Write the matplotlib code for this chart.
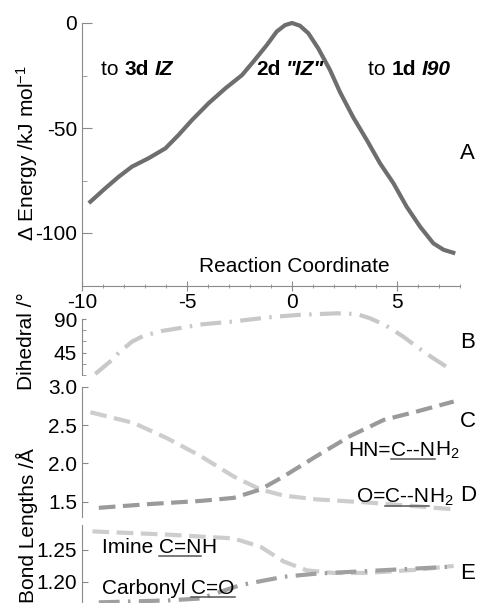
import matplotlib
matplotlib.use("Agg")
import matplotlib.pyplot as plt
from matplotlib.ticker import MultipleLocator, FixedLocator, FormatStrFormatter
from matplotlib.lines import Line2D
from matplotlib.transforms import IdentityTransform

plt.rcParams['font.family'] = ['Liberation Sans', 'DejaVu Sans']
plt.rcParams['mathtext.fontset'] = 'custom'
plt.rcParams['mathtext.rm'] = 'Liberation Sans'
plt.rcParams['mathtext.it'] = 'Liberation Sans:italic'
plt.rcParams['axes.unicode_minus'] = False

# --- data ---
energy_x = [-9.6, -8.89, -8.25, -7.62, -6.83, -6.03, -5.4, -4.76, -3.97, -3.17, -2.38, -1.84,
            -1.2, -0.73, -0.33, 0.0, 0.38, 0.78, 1.25, 1.81, 2.29, 2.92, 3.56, 4.19, 4.83,
            5.46, 6.1, 6.73, 7.22, 7.68]
energy_y = [-85.1, -78.7, -73.2, -68.4, -64.4, -59.7, -53.3, -46.2, -38.2, -31.1, -24.8, -18.4,
            -10.5, -4.1, -1.0, 0.0, -1.3, -4.9, -12.1, -22.4, -33.0, -45.0, -55.7, -66.8, -76.3,
            -87.5, -97.0, -104.9, -108.0, -109.4]

dihedral_x = [-9.37, -8.57, -8.25, -7.62, -7.06, -6.19, -5.24, -4.29, -2.86, -1.11, 0.22,
              2.13, 3.08, 3.71, 4.43, 5.3, 5.94, 6.73, 7.6]
dihedral_y = [16.0, 34.9, 44.8, 59.7, 67.8, 74.2, 78.6, 83.2, 86.8, 92.7, 95.8,
              98.1, 97.2, 91.4, 82.3, 66.5, 52.9, 37.2, 21.4]

ocn_x = [-9.6, -7.54, -5.95, -4.37, -2.78, -1.5, -0.4, 1.19, 3.57, 5.95, 7.7]
ocn_y = [2.67, 2.53, 2.33, 2.10, 1.83, 1.66, 1.58, 1.53, 1.49, 1.44, 1.40]

hncn_x = [-9.2, -6.75, -4.37, -2.78, -1.5, -0.4, 1.19, 2.78, 4.37, 5.95, 7.7]
hncn_y = [1.42, 1.47, 1.51, 1.55, 1.66, 1.83, 2.10, 2.36, 2.57, 2.68, 2.81]

imine_x = [-9.5, -5.95, -2.78, -1.5, -0.4, 0.71, 1.98, 3.57, 5.95, 7.7]
imine_y = [1.279, 1.274, 1.268, 1.255, 1.232, 1.218, 1.214, 1.214, 1.219, 1.225]

carbonyl_x = [-9.2, -5.95, -4.37, -2.46, -0.4, 1.19, 3.57, 5.95, 7.7]
carbonyl_y = [1.168, 1.171, 1.174, 1.195, 1.208, 1.213, 1.217, 1.221, 1.224]

W, H = 481, 603
FS = 15
AXC = '#8a8a8a'

fig = plt.figure(figsize=(W / 100, H / 100), dpi=100)


def add_ax(top, bottom):
    return fig.add_axes([82 / W, (H - bottom) / H, 378 / W, (bottom - top) / H])


axA = add_ax(23, 285.5)
axB = add_ax(319.3, 374.7)
axC = add_ax(387, 517)
axE = add_ax(525, 603)

for ax in (axA, axB, axC, axE):
    ax.set_xlim(-10, 8)
    ax.patch.set_visible(False)
    for s in ('top', 'right'):
        ax.spines[s].set_visible(False)
    ax.spines['left'].set_color(AXC)
    ax.spines['bottom'].set_color(AXC)
    ax.tick_params(axis='y', which='both', direction='in', colors=AXC, labelcolor='black',
                   labelsize=FS, pad=3.5, length=4)
for ax in (axB, axC, axE):
    ax.spines['bottom'].set_visible(False)
    ax.tick_params(axis='x', bottom=False, labelbottom=False)

# panel A
axA.plot(energy_x, energy_y, color='#6e6e6e', lw=3, clip_on=False)
axA.set_ylim(-125, 0)
axA.yaxis.set_major_locator(FixedLocator([-100, -50, 0]))
axA.yaxis.set_minor_locator(FixedLocator([-75, -25]))
axA.tick_params(axis='y', which='major', length=7)
axA.tick_params(axis='y', which='minor', length=3.5)
axA.xaxis.set_major_locator(MultipleLocator(5))
axA.xaxis.set_minor_locator(MultipleLocator(1))
axA.tick_params(axis='x', which='major', direction='inout', length=7, colors=AXC,
                labelcolor='black', labelsize=FS, pad=2)
axA.tick_params(axis='x', which='minor', direction='inout', length=3.5, colors=AXC)
axA.text(0.1, -116, 'Reaction Coordinate', fontsize=FS, ha='center', va='center')

# panel B
axB.plot(dihedral_x, dihedral_y, color='#c8c8c8', lw=3, dashes=(5, 2, 0.6, 2), clip_on=False)
axB.set_ylim(15, 90)
axB.yaxis.set_major_locator(FixedLocator([45, 90]))
axB.yaxis.set_minor_locator(FixedLocator([15, 30, 60, 75]))
axB.tick_params(axis='y', which='both', length=3)

# panel C / D
axC.plot(ocn_x, ocn_y, color='#cdcdcd', lw=3, dashes=(4, 1.8), clip_on=False)
axC.plot(hncn_x, hncn_y, color='#9a9a9a', lw=3, dashes=(4, 1.8), clip_on=False)
axC.set_ylim(1.30, 3.0)
axC.yaxis.set_major_locator(FixedLocator([1.5, 2.0, 2.5, 3.0]))
axC.yaxis.set_major_formatter(FormatStrFormatter('%.1f'))

# panel E
axE.plot(imine_x, imine_y, color='#cdcdcd', lw=3, dashes=(4, 1.8), clip_on=False)
axE.plot(carbonyl_x, carbonyl_y, color='#a0a0a0', lw=3, dashes=(5, 2, 0.6, 2), clip_on=False)
axE.set_ylim(1.167, 1.289)
axE.yaxis.set_major_locator(FixedLocator([1.20, 1.25]))
axE.yaxis.set_major_formatter(FormatStrFormatter('%.2f'))

renderer = fig.canvas.get_renderer()


def text_width(s, **kw):
    a = fig.text(0, 0, 'x' + s + 'x', fontsize=FS, **kw)
    b = fig.text(0, 0, 'xx', fontsize=FS, **kw)
    w = a.get_window_extent(renderer).width - b.get_window_extent(renderer).width
    a.remove()
    b.remove()
    return w


def pieces(ax, x, y, parts):
    # parts: (string, weight, style, underline)
    x0, y0 = ax.transData.transform((x, y))
    dx = 0
    for s, weight, style, under in parts:
        kw = dict(fontweight=weight, fontstyle=style)
        ax.annotate(s, (x, y), xytext=(dx, 0), textcoords='offset pixels',
                    fontsize=FS, ha='left', va='baseline', annotation_clip=False, **kw)
        w = text_width(s, **kw)
        if under:
            fig.add_artist(Line2D([x0 + dx, x0 + dx + w], [y0 - 3.5, y0 - 3.5],
                                  color='#555555', lw=1.1, transform=IdentityTransform()))
        dx += w


pieces(axA, -9.1, -24.8, [('to ', 'normal', 'normal', False), ('3d', 'bold', 'normal', False),
                          (' ', 'normal', 'normal', False), ('IZ', 'bold', 'italic', False)])
pieces(axA, -1.71, -24.8, [('2d', 'bold', 'normal', False), (' ', 'normal', 'normal', False),
                           ('"IZ"', 'bold', 'italic', False)])
pieces(axA, 3.62, -24.8, [('to ', 'normal', 'normal', False), ('1d', 'bold', 'normal', False),
                          (' ', 'normal', 'normal', False), ('I90', 'bold', 'italic', False)])

pieces(axC, 2.67, 2.104, [('HN=', 'normal', 'normal', False), ('C--N', 'normal', 'normal', True),
                          ('H$_2$', 'normal', 'normal', False)])
pieces(axC, 3.1, 1.49, [('O=', 'normal', 'normal', False), ('C--N', 'normal', 'normal', True),
                        ('H$_2$', 'normal', 'normal', False)])
pieces(axE, -9.05, 1.2457, [('Imine ', 'normal', 'normal', False), ('C=N', 'normal', 'normal', True),
                            ('H', 'normal', 'normal', False)])
pieces(axE, -9.05, 1.1817, [('Carbonyl ', 'normal', 'normal', False),
                            ('C=O', 'normal', 'normal', True)])

# panel letters
for letter, ypx in [('A', 153), ('B', 342.5), ('C', 421.7), ('D', 495.5), ('E', 573.5)]:
    fig.text(460 / W, 1 - ypx / H, letter, fontsize=16, ha='left', va='center')

# y labels
fig.text(27 / W, 1 - 153 / H, '\u0394 Energy /kJ mol$^{-1}$', fontsize=FS, rotation=90,
         ha='center', va='center')
fig.text(27 / W, 1 - 341 / H, 'Dihedral /\u00b0', fontsize=FS, rotation=90,
         ha='center', va='center')
fig.text(27 / W, 1 - 526 / H, 'Bond Lengths /\u00c5', fontsize=FS, rotation=90,
         ha='center', va='center')

fig.savefig('out.png', dpi=100)
